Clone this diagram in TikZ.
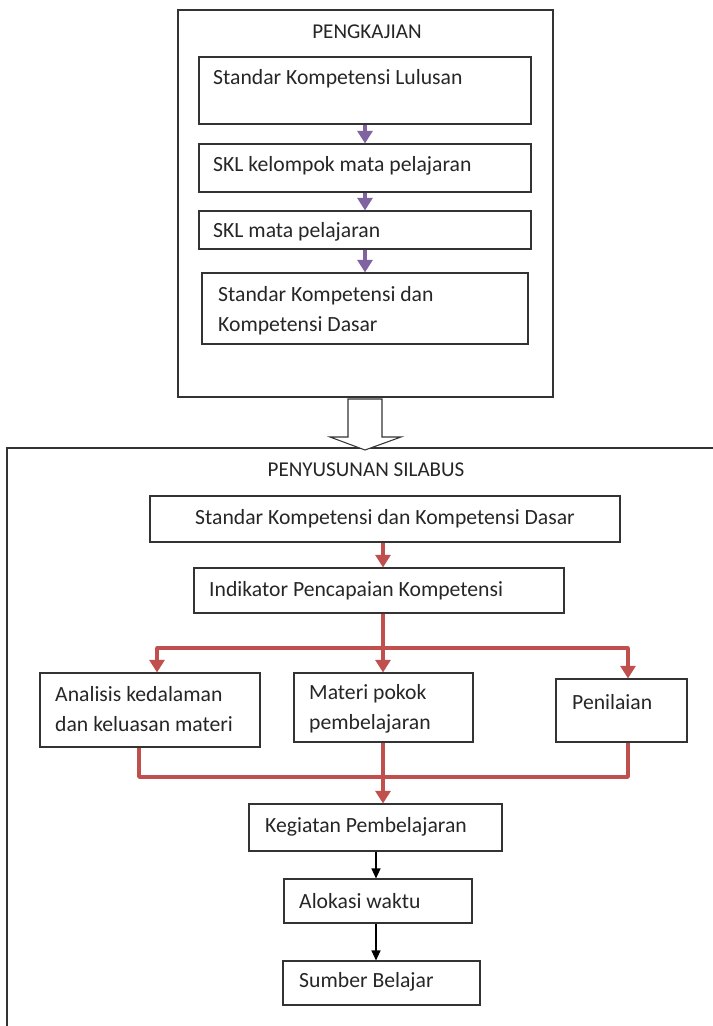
\documentclass[tikz,border=0pt]{standalone}
\usepackage{fontspec}
\setmainfont{Carlito}
\usetikzlibrary{arrows.meta,fit,positioning}
\definecolor{ungu}{HTML}{8064A2}
\definecolor{merah}{HTML}{C0504D}

\tikzset{
  box/.style={draw=black!80, line width=0.9pt, inner sep=0pt},
  txt/.style={anchor=west, inner sep=0pt, text=black!85, font=\fontsize{18.5}{25.6}\selectfont},
  ttl/.style={inner sep=0pt, text=black!85, font=\fontsize{18}{20}\selectfont},
  purplearr/.style={draw=ungu, line width=3.4pt, -{Triangle[width=0.45cm,length=0.38cm]}},
  redline/.style={draw=merah, line width=3pt},
  redarr/.style={redline, -{Triangle[width=0.45cm,length=0.38cm]}},
  blackarr/.style={draw=black, line width=0.9pt, -{Triangle[width=0.27cm,length=0.3cm]}},
}

\begin{document}
\begin{tikzpicture}[x=0.03cm,y=-0.03cm]
  \useasboundingbox (0,0) rectangle (713,1026);
  % pengkajian
  \node[box, fit={(178,10) (553,397)}] (kaji) {};
  \node[ttl] (kajiT) at (367,32) {PENGKAJIAN};
  \node[box, fit={(199,57) (531,124)}] (skl) {};
  \node[txt] (sklT) at (213,79) {Standar Kompetensi Lulusan};
  \node[box, fit={(199,144) (531,192)}] (sklk) {};
  \node[txt] (sklkT) at (213,166) {SKL kelompok mata pelajaran};
  \node[box, fit={(199,211) (531,249)}] (sklm) {};
  \node[txt] (sklmT) at (213,232) {SKL mata pelajaran};
  \node[box, fit={(202,273) (528,344)}] (skkd) {};
  \node[txt, align=left] (skkdT) at (218,311) {Standar Kompetensi dan\\Kompetensi Dasar};
  \draw[purplearr] (skl) -- (sklk);
  \draw[purplearr] (sklk) -- (sklm);
  \draw[purplearr] (sklm) -- (skkd);
  % penyusunan silabus
  \draw[box] (720,448) -| (7,1030);
  \draw[box, fill=white] (348,399) -- (382,399) -- (382,437) -- (401,437)
    -- (365,450) -- (330,437) -- (348,437) -- cycle;
  \node[ttl] (silT) at (366,470) {PENYUSUNAN SILABUS};
  \node[box, fit={(150,496) (620,542)}] (sk) {};
  \node[txt, anchor=center] (skT) at (sk) {Standar Kompetensi dan Kompetensi Dasar};
  \node[box, fit={(194,568) (564,613)}] (ind) {};
  \node[txt] (indT) at (209,591) {Indikator Pencapaian Kompetensi};
  \node[box, fit={(40,673) (260,747)}] (ana) {};
  \node[txt, align=left] (anaT) at (55,709) {Analisis kedalaman\\dan keluasan materi};
  \node[box, fit={(294,673) (473,742)}] (mat) {};
  \node[txt, align=left] (matT) at (309,709) {Materi pokok\\pembelajaran};
  \node[box, fit={(556,679) (687,742)}] (pen) {};
  \node[txt] (penT) at (572,702) {Penilaian};
  \node[box, fit={(249,804) (502,851)}] (keg) {};
  \node[txt] (kegT) at (265,827) {Kegiatan Pembelajaran};
  \node[box, fit={(284,879) (472,923)}] (alo) {};
  \node[txt] (aloT) at (299,901) {Alokasi waktu};
  \node[box, fit={(283,961) (480,1005)}] (sum) {};
  \node[txt] (sumT) at (299,982) {Sumber Belajar};
  % connectors
  \coordinate (mid) at (383,648);
  \coordinate (lft) at (157,648);
  \coordinate (rgt) at (628,648);
  \coordinate (jl) at (139,777);
  \coordinate (jr) at (628,777);
  \coordinate (bx) at (376,0);
  \draw[redarr] (sk.south -| mid) -- (ind.north -| mid);
  \draw[redline] (ind.south -| mid) -- (mid);
  \draw[redline, line cap=round] (lft) -- (rgt);
  \draw[redarr] (lft) -- (ana.north -| lft);
  \draw[redarr] (mid) -- (mat.north -| mid);
  \draw[redarr] (rgt) -- (pen.north -| rgt);
  \draw[redline, line join=round] (ana.south -| jl) -- (jl) -- (jr) -- (pen.south -| jr);
  \draw[redarr] (mat.south -| mid) -- (keg.north -| mid);
  \draw[blackarr] (keg.south -| bx) -- (alo.north -| bx);
  \draw[blackarr] (alo.south -| bx) -- (sum.north -| bx);
\end{tikzpicture}
\end{document}
